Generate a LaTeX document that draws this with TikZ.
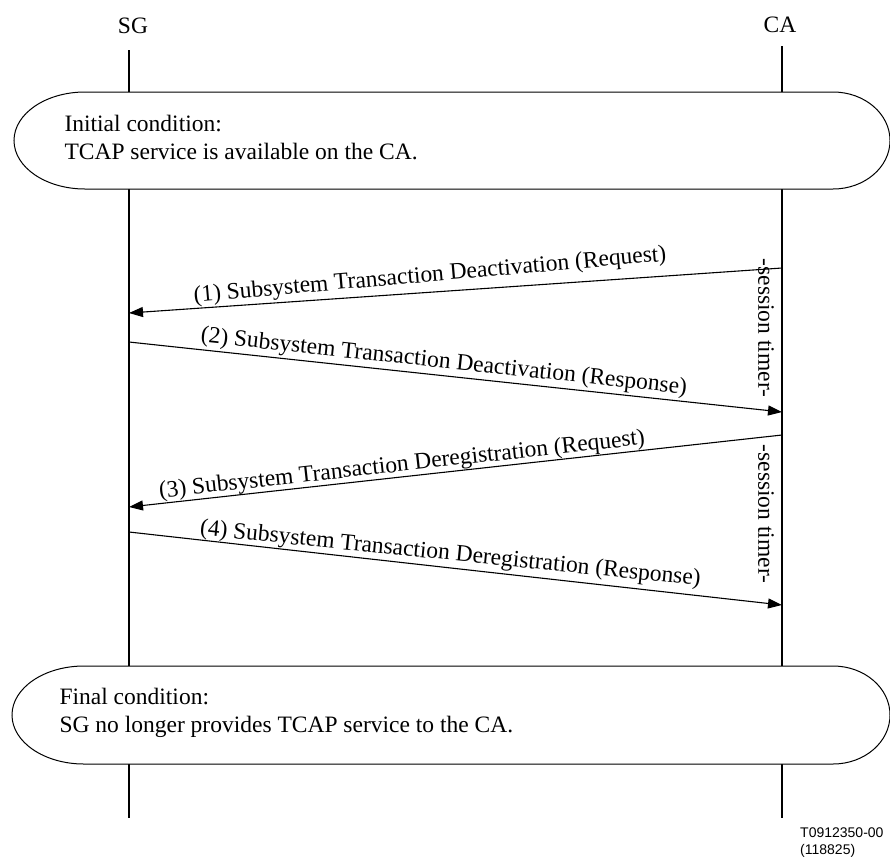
\documentclass[tikz,border=0pt]{standalone}
\usepackage{fontspec}
\setmainfont{Liberation Serif}
\newfontfamily\figsans{Liberation Sans}
\usetikzlibrary{arrows.meta,positioning}

\begin{document}
\begin{tikzpicture}[x=1pt, y=-1pt, font=\fontsize{23.5}{28}\selectfont,
    >={Triangle[length=14pt, width=10pt]},
    lifeline/.style={line width=1.6pt},
    msg/.style={->, line width=1.1pt},
    msglabel/.style={sloped, above, inner sep=2pt},
    condbox/.style={draw, line width=1pt, fill=white},
    timer/.style={rotate=-90, inner sep=0pt}]
  \useasboundingbox (0,0) rectangle (890,860);
  \def\xs{129} \def\xc{782}

  % entities and lifelines
  \node[anchor=base] (sg) at (133,33) {SG};
  \node[anchor=base] (ca) at (780,32) {CA};
  \coordinate (sgtop) at (\xs,50);  \coordinate (sgbot) at (\xs,818);
  \coordinate (catop) at (\xc,46);  \coordinate (cabot) at (\xc,818);
  \draw[lifeline] (sgtop) -- (sgbot);
  \draw[lifeline] (catop) -- (cabot);

  % initial condition
  \draw[condbox] (85,92) -- (833,92) arc[start angle=90, end angle=-90, x radius=57pt, y radius=48.5pt]
      -- (85,189) arc[start angle=270, end angle=90, x radius=71pt, y radius=48.5pt] -- cycle;
  \node[anchor=base west, align=left] (init) at (61,159) {Initial condition:\\TCAP service is available on the CA.};

  % messages
  \coordinate (m1a) at (\xc,268); \coordinate (m1b) at (\xs,313);
  \coordinate (m2a) at (\xs,342); \coordinate (m2b) at (\xc,412);
  \coordinate (m3a) at (\xc,435); \coordinate (m3b) at (\xs,507);
  \coordinate (m4a) at (\xs,532); \coordinate (m4b) at (\xc,605);
  \draw[msg] (m1a) -- (m1b);
  \node[rotate=5, inner sep=2pt] (l1) at (430,276) {(1) Subsystem Transaction Deactivation (Request)};
  \draw[msg] (m2a) -- node[msglabel, pos=.48] (l2) {(2) Subsystem Transaction Deactivation (Response)} (m2b);
  \draw[msg] (m3a) -- node[msglabel, pos=.58, inner sep=0pt] (l3) {(3) Subsystem Transaction Deregistration (Request)} (m3b);
  \draw[msg] (m4a) -- node[msglabel, pos=.49, rotate=0.6] (l4) {(4) Subsystem Transaction Deregistration (Response)} (m4b);

  % timers
  \node[timer] (t1) at (766,328) {-session timer-};
  \node[timer] (t2) at (766,514) {-session timer-};

  % final condition
  \draw[condbox] (84,666) -- (833,666) arc[start angle=90, end angle=-90, x radius=57pt, y radius=49pt]
      -- (84,764) arc[start angle=270, end angle=90, x radius=72pt, y radius=49pt] -- cycle;
  \node[anchor=base west, align=left] (final) at (56,732) {Final condition:\\SG no longer provides TCAP service to the CA.};

  % figure number
  \node[anchor=north west, align=left, inner sep=0pt, font=\figsans\fontsize{14}{16.5}\selectfont] (fig) at (800,828) {T0912350-00\\(118825)};
\end{tikzpicture}
\end{document}
